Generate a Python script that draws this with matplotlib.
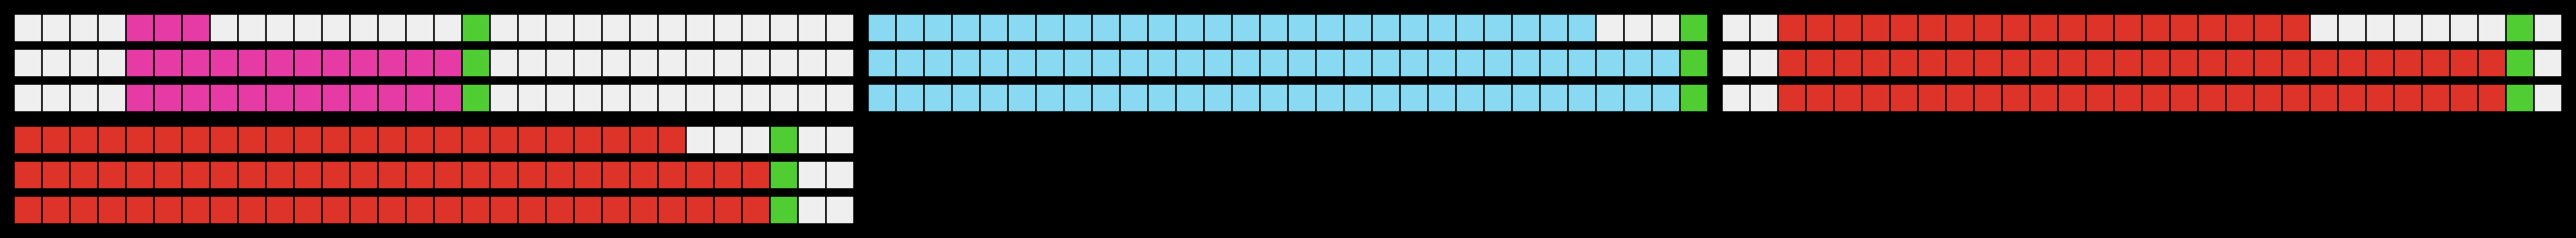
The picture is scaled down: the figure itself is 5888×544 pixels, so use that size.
import matplotlib
matplotlib.use("Agg")
import matplotlib.pyplot as plt

# four panels, 3 rows x 30 cells each
n_cells = 30
panel_colors = ["#e63ba4", "#88d9f1", "#dd3329", "#dd3329"]
start_cell = [4, 0, 2, 0]              # first coloured cell in every row
row_fill_end = [[7, 16, 16],           # coloured up to (not incl.) this cell
                [26, 29, 29],
                [21, 28, 28],
                [24, 27, 27]]
marker_cell = [16, 29, 28, 27]         # green cell
panel_grid = [(0, 0), (0, 1), (0, 2), (1, 0)]   # (row, col) of each panel

empty_color = "#efefef"
marker_color = "#50cd32"

W, H = 5888, 544
fig = plt.figure(figsize=(W / 100, H / 100), dpi=100, facecolor="black")

for p in range(len(panel_colors)):
    prow, pcol = panel_grid[p]
    left = (32 + 1952 * pcol) / W
    bottom = 1 - (32 + 256 * prow + 224) / H
    ax = fig.add_axes([left, bottom, 1920 / W, 224 / H])
    ax.set_facecolor("black")
    for r in range(3):
        xs = list(range(n_cells))
        cols = []
        for c in xs:
            if c == marker_cell[p]:
                cols.append(marker_color)
            elif start_cell[p] <= c < row_fill_end[p][r]:
                cols.append(panel_colors[p])
            else:
                cols.append(empty_color)
        ax.bar(xs, 0.8, bottom=r, width=1, align="edge", color=cols,
               edgecolor="black", linewidth=2.6)
    ax.set_xlim(0, n_cells)
    ax.set_ylim(2.8, 0)
    ax.axis("off")

fig.savefig("out.png", dpi=100, facecolor="black")
